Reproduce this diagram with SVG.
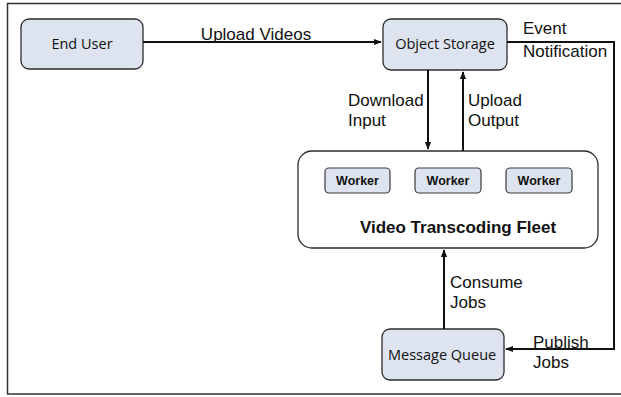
<svg xmlns="http://www.w3.org/2000/svg" width="621" height="397" viewBox="0 0 621 397">
<defs>
<style>
.box{fill:#dee4ef;stroke:#2b2b2b;stroke-width:1.3}
.wk{fill:#dee4ef;stroke:#3a3a3a;stroke-width:1.2}
.lbl{font-family:"Open Sans","Liberation Sans",sans-serif;font-size:14.5px;fill:#111}
.wl{font-family:"Liberation Sans",Arial,sans-serif;font-size:12.5px;font-weight:bold;fill:#111;text-anchor:middle}
.cl{font-family:"Liberation Sans",Arial,sans-serif;font-size:17px;fill:#111}
.conn{fill:none;stroke:#111;stroke-width:2}
</style>
<marker id="ah" viewBox="0 0 10 10" refX="9" refY="5" markerWidth="4" markerHeight="4" orient="auto">
<path d="M0,1 L10,5 L0,9 z" fill="#111"/>
</marker>
<clipPath id="mqclip"><rect x="382" y="329" width="115" height="51"/></clipPath>
</defs>
<rect x="0" y="0" width="621" height="397" fill="#fff"/>
<rect x="7.5" y="3.5" width="640" height="390.5" fill="#fff" stroke="#333" stroke-width="1.5"/>
<g id="end-user">
<rect class="box" x="21" y="19" width="122" height="50" rx="8"/>
<text class="lbl" x="82" y="49" text-anchor="middle" font-size="15">End User</text>
</g>
<g id="object-storage">
<rect class="box" x="383" y="19" width="124" height="51" rx="8"/>
<text class="lbl" x="445" y="49" text-anchor="middle">Object Storage</text>
</g>
<g id="fleet">
<rect x="298" y="151" width="300" height="97" rx="14" fill="#fff" stroke="#2b2b2b" stroke-width="1.3"/>
<text x="458" y="233" font-family="Liberation Sans,Arial,sans-serif" font-size="17" font-weight="bold" fill="#111" text-anchor="middle">Video Transcoding Fleet</text>
</g>
<g id="worker1">
<rect class="wk" x="325" y="168" width="65" height="25" rx="4"/>
<text class="wl" x="357.5" y="185">Worker</text>
</g>
<g id="worker2">
<rect class="wk" x="415" y="168" width="66" height="25" rx="4"/>
<text class="wl" x="448" y="185">Worker</text>
</g>
<g id="worker3">
<rect class="wk" x="506" y="168" width="66" height="25" rx="4"/>
<text class="wl" x="539" y="185">Worker</text>
</g>
<g id="message-queue">
<rect class="box" x="382" y="329" width="122" height="51" rx="8"/>
<text class="lbl" x="388" y="360" clip-path="url(#mqclip)">Message Queue</text>
</g>
<g id="connectors">
<line class="conn" x1="143" y1="42" x2="381" y2="42" marker-end="url(#ah)"/>
<line class="conn" x1="428" y1="70" x2="428" y2="149" marker-end="url(#ah)"/>
<line class="conn" x1="463" y1="151" x2="463" y2="72" marker-end="url(#ah)"/>
<polyline class="conn" points="507,42 614,42 614,349 506,349" marker-end="url(#ah)"/>
<line class="conn" x1="444" y1="329" x2="444" y2="250" marker-end="url(#ah)"/>
<text class="cl" x="256" y="40" text-anchor="middle">Upload Videos</text>
<text class="cl" x="523" y="34">Event</text>
<text class="cl" x="523" y="57">Notification</text>
<text class="cl" x="348" y="106">Download</text>
<text class="cl" x="348" y="126">Input</text>
<text class="cl" x="468" y="106">Upload</text>
<text class="cl" x="468" y="126">Output</text>
<text class="cl" x="450" y="288">Consume</text>
<text class="cl" x="450" y="308">Jobs</text>
<text class="cl" x="533" y="348">Publish</text>
<text class="cl" x="533" y="368">Jobs</text>
</g>
</svg>
